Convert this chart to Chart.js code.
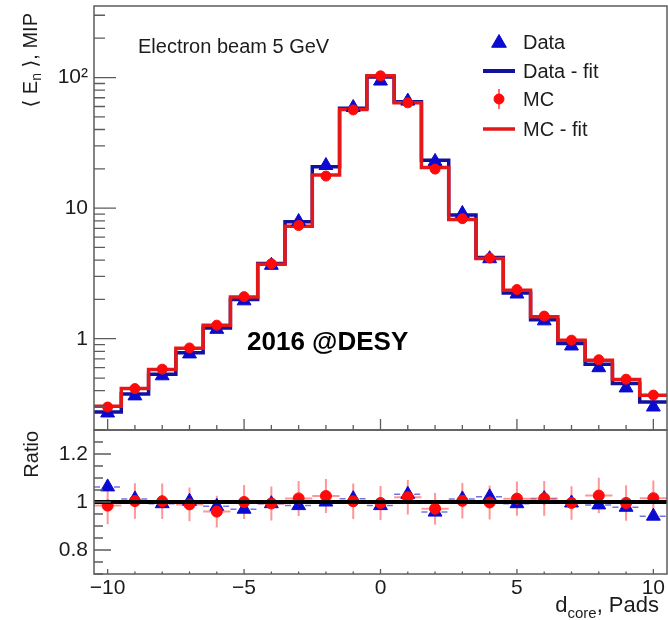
<!DOCTYPE html>
<html>
<head>
<meta charset="utf-8">
<script src="https://cdn.jsdelivr.net/npm/chart.js@4.4.1/dist/chart.umd.min.js"></script>
<style>
  html, body { margin: 0; padding: 0; background: #ffffff; }
  canvas { display: block; }
</style>
</head>
<body>
<canvas id="plot" width="668" height="620"></canvas>
<script>
// Pad distance from the shower core (bin centres)
const bins = [-10, -9, -8, -7, -6, -5, -4, -3, -2, -1, 0, 1, 2, 3, 4, 5, 6, 7, 8, 9, 10];

// Mean pad energy, MIP
const dataMean = [0.27, 0.365, 0.52, 0.765, 1.18, 1.95, 3.65, 7.9, 21.2, 59, 94, 66, 22.8, 9.1, 4.1, 2.2, 1.37, 0.88, 0.6, 0.42, 0.30];
const dataFit  = [0.275, 0.377, 0.535, 0.78, 1.21, 2.0, 3.77, 7.85, 20.7, 58.1, 101, 65.3, 23.3, 8.84, 4.19, 2.24, 1.40, 0.919, 0.638, 0.454, 0.328];
const mcMean   = [0.30, 0.415, 0.585, 0.85, 1.27, 2.1, 3.75, 7.35, 17.6, 56.5, 103, 64, 19.9, 8.3, 4.15, 2.38, 1.49, 0.975, 0.69, 0.49, 0.37];
const mcFit    = [0.304, 0.415, 0.58, 0.845, 1.27, 2.09, 3.72, 7.28, 17.9, 57, 103, 64.1, 20.5, 8.19, 4.12, 2.35, 1.47, 0.974, 0.684, 0.487, 0.369];

// Ratio panel
const dataRatio  = [1.063, 1.013, 0.993, 1.003, 0.982, 0.97, 0.993, 0.985, 1.0, 1.014, 0.985, 1.032, 0.958, 1.013, 1.022, 0.993, 1.014, 0.996, 0.988, 0.978, 0.941];
const mcRatio    = [0.985, 1.004, 1.003, 0.99, 0.96, 1.0, 0.994, 1.015, 1.025, 1.003, 0.996, 1.02, 0.972, 1.005, 0.998, 1.014, 1.015, 0.996, 1.027, 0.996, 1.016];
const mcRatioErr = [0.078, 0.074, 0.074, 0.07, 0.066, 0.071, 0.071, 0.073, 0.071, 0.074, 0.071, 0.072, 0.066, 0.074, 0.071, 0.071, 0.072, 0.07, 0.074, 0.074, 0.074];
const ratioReference = 1;

// Tick labels
const xTickValues = [-10, -5, 0, 5, 10];
const xTickLabels = ['\u221210', '\u22125', '0', '5', '10'];
const yTickValues = [1, 10, 100];
const yTickLabels = ['1', '10', '10\u00B2'];
const ratioTickValues = [0.8, 1, 1.2];
const ratioTickLabels = ['0.8', '1', '1.2'];

// Colours
const BLUE_LINE = '#12129c';
const BLUE_MARK = '#0a0ad0';
const RED_LINE = '#e31818';
const RED_MARK = '#ff0a0a';
const FRAME = '#5c5c5c';
const FONT = '"Liberation Sans", Arial, "DejaVu Sans", sans-serif';

// ---- helpers turning the arrays into point lists for the library ----
const binWidth = 1;
function histOutline(vals) {
  const pts = bins.map((b, i) => ({ x: b - binWidth / 2, y: vals[i] }));
  pts.push({ x: bins[bins.length - 1] + binWidth / 2, y: vals[vals.length - 1] });
  return pts;
}
function markers(vals) {
  return bins.map((b, i) => ({ x: b, y: vals[i] }));
}
function xBars(vals) {
  const pts = [];
  bins.forEach((b, i) => {
    pts.push({ x: b - binWidth / 2, y: vals[i] }, { x: b + binWidth / 2, y: vals[i] }, { x: b, y: null });
  });
  return pts;
}
function yBars(vals, errs) {
  const pts = [];
  bins.forEach((b, i) => {
    pts.push({ x: b, y: vals[i] - errs[i] }, { x: b, y: vals[i] + errs[i] }, { x: b, y: null });
  });
  return pts;
}
function closeTo(a, b) { return Math.abs(a - b) < 1e-6 * Math.max(1, Math.abs(b)); }
function labelFor(values, labels, v) {
  for (let i = 0; i < values.length; i++) if (closeTo(values[i], v)) return labels[i];
  return '';
}

// tick positions (major ones carry a label)
const xTickAll = [];
for (let v = -10; v <= 10; v++) xTickAll.push(v);
const yTickAll = [];
[0.1, 1, 10, 100].forEach(d => { for (let m = 1; m <= 9; m++) { const v = m * d; if (v >= 0.2 && v <= 353) yTickAll.push(+v.toPrecision(3)); } });
const ratioTickAll = [];
for (let k = 14; k <= 26; k++) ratioTickAll.push(+(k * 0.05).toFixed(2));

const tickFont = { family: FONT, size: 21 };

// scales keep their box; no extra room for overhanging labels
function fixBox(w, h) {
  return s => {
    if (w !== null) s.width = w;
    if (h !== null) s.height = h;
    s.paddingTop = 0; s.paddingBottom = 0; s.paddingLeft = 0; s.paddingRight = 0;
  };
}

// ---- frame, inward tick marks and text ----
const decorations = {
  id: 'decorations',
  afterDraw(chart) {
    const ctx = chart.ctx;
    const xs = chart.scales.x, ys = chart.scales.y, rs = chart.scales.yr;
    const L = chart.chartArea.left, R = chart.chartArea.right;
    const mainTop = ys.top, mainBot = ys.bottom, ratTop = rs.top, ratBot = rs.bottom;

    ctx.save();
    ctx.strokeStyle = FRAME;
    ctx.lineWidth = 1.5;
    ctx.strokeRect(L, mainTop, R - L, mainBot - mainTop);
    ctx.strokeRect(L, ratTop, R - L, ratBot - ratTop);

    ctx.lineWidth = 1.3;
    ctx.beginPath();
    // log axis
    yTickAll.forEach(v => {
      const p = ys.getPixelForValue(v);
      const len = labelFor(yTickValues, yTickLabels, v) ? 22 : 11;
      ctx.moveTo(L, p); ctx.lineTo(L + len, p);
    });
    // ratio axis
    ratioTickAll.forEach(v => {
      const p = rs.getPixelForValue(v);
      const len = labelFor(ratioTickValues, ratioTickLabels, v) ? 17 : 9;
      ctx.moveTo(L, p); ctx.lineTo(L + len, p);
    });
    // x ticks on both panels
    xTickAll.forEach(v => {
      const p = xs.getPixelForValue(v);
      const major = labelFor(xTickValues, xTickLabels, v) !== '';
      ctx.moveTo(p, mainBot); ctx.lineTo(p, mainBot - (major ? 11 : 5));
      ctx.moveTo(p, ratBot); ctx.lineTo(p, ratBot - (major ? 5 : 2.5));
    });
    ctx.stroke();

    ctx.fillStyle = '#1c1c1c';
    ctx.textBaseline = 'alphabetic';

    // axis titles built from runs (sub-scripts in a smaller font)
    function drawRun(segs, anchorX, anchorY, rotate, alignEnd) {
      ctx.save();
      ctx.translate(anchorX, anchorY);
      if (rotate) ctx.rotate(-Math.PI / 2);
      let total = 0;
      segs.forEach(s => { ctx.font = s.font; total += ctx.measureText(s.text).width; });
      let u = alignEnd ? -total : 0;
      ctx.textAlign = 'left';
      segs.forEach(s => {
        ctx.font = s.font;
        ctx.fillText(s.text, u, s.dy || 0);
        u += ctx.measureText(s.text).width;
      });
      ctx.restore();
    }
    const big = '20px ' + FONT;
    const small = '14px ' + FONT;
    drawRun([
      { text: '\u27E8 ', font: big },
      { text: 'E', font: big },
      { text: 'n', font: small, dy: 4 },
      { text: ' \u27E9, MIP', font: big }
    ], 37, mainTop + 7, true, true);
    drawRun([{ text: 'Ratio', font: big }], 38, ratTop + 1, true, true);
    drawRun([
      { text: 'd', font: '22px ' + FONT },
      { text: 'core', font: '15px ' + FONT, dy: 6 },
      { text: ', Pads', font: '22px ' + FONT }
    ], 659, 612, false, true);

    // beam label
    ctx.font = '20px ' + FONT;
    ctx.textAlign = 'left';
    ctx.fillText('Electron beam 5 GeV', 138, 53);

    // campaign label
    ctx.font = 'bold 26px ' + FONT;
    ctx.fillStyle = '#000000';
    ctx.fillText('2016 @DESY', 247, 350);

    // legend
    ctx.font = '20px ' + FONT;
    ctx.fillStyle = '#1c1c1c';
    const lx = 523, mx = 499;
    const rows = [42, 71, 99, 129];
    ctx.fillText('Data', lx, rows[0] + 7);
    ctx.fillText('Data - fit', lx, rows[1] + 7);
    ctx.fillText('MC', lx, rows[2] + 7);
    ctx.fillText('MC - fit', lx, rows[3] + 7);

    ctx.fillStyle = BLUE_MARK; ctx.strokeStyle = BLUE_MARK; ctx.lineWidth = 1;
    Chart.helpers.drawPoint(ctx, { pointStyle: 'triangle', radius: 8.5, borderWidth: 1, rotation: 0 }, mx, rows[0] + 1);

    ctx.strokeStyle = BLUE_LINE; ctx.lineWidth = 4;
    ctx.beginPath(); ctx.moveTo(483, rows[1]); ctx.lineTo(515, rows[1]); ctx.stroke();

    ctx.strokeStyle = 'rgba(255,70,70,0.8)'; ctx.lineWidth = 2;
    ctx.beginPath(); ctx.moveTo(mx, rows[2] - 10); ctx.lineTo(mx, rows[2] + 10); ctx.stroke();
    ctx.fillStyle = RED_MARK; ctx.strokeStyle = RED_MARK; ctx.lineWidth = 1;
    Chart.helpers.drawPoint(ctx, { pointStyle: 'circle', radius: 5, borderWidth: 1, rotation: 0 }, mx, rows[2]);

    ctx.strokeStyle = RED_LINE; ctx.lineWidth = 3.5;
    ctx.beginPath(); ctx.moveTo(483, rows[3]); ctx.lineTo(515, rows[3]); ctx.stroke();

    ctx.restore();
  }
};

const noGrid = { display: false, drawTicks: false, tickLength: 0 };

new Chart(document.getElementById('plot'), {
  type: 'scatter',
  data: {
    datasets: [
      // main panel
      { label: 'Data - fit', data: histOutline(dataFit), yAxisID: 'y', showLine: true, stepped: true,
        borderColor: BLUE_LINE, borderWidth: 3.5, pointRadius: 0, order: 20 },
      { label: 'MC - fit', data: histOutline(mcFit), yAxisID: 'y', showLine: true, stepped: true,
        borderColor: RED_LINE, borderWidth: 3.5, pointRadius: 0, order: 19 },
      { label: 'Data', data: markers(dataMean), yAxisID: 'y', pointStyle: 'triangle', pointRadius: 8,
        backgroundColor: BLUE_MARK, borderColor: BLUE_MARK, borderWidth: 1, order: 18 },
      { label: 'MC', data: markers(mcMean), yAxisID: 'y', pointStyle: 'circle', pointRadius: 5,
        backgroundColor: RED_MARK, borderColor: RED_MARK, borderWidth: 1, order: 17 },
      // ratio panel
      { label: 'Data ratio x-err', data: xBars(dataRatio), yAxisID: 'yr', showLine: true, spanGaps: false,
        borderColor: 'rgba(70,70,210,0.75)', borderWidth: 1.5, borderDash: [6, 4], pointRadius: 0, order: 12 },
      { label: 'MC ratio x-err', data: xBars(mcRatio), yAxisID: 'yr', showLine: true, spanGaps: false,
        borderColor: 'rgba(255,80,80,0.6)', borderWidth: 2, pointRadius: 0, order: 11 },
      { label: 'MC ratio y-err', data: yBars(mcRatio, mcRatioErr), yAxisID: 'yr', showLine: true, spanGaps: false,
        borderColor: 'rgba(255,80,80,0.6)', borderWidth: 2, pointRadius: 0, order: 10 },
      { label: 'Data ratio', data: markers(dataRatio), yAxisID: 'yr', pointStyle: 'triangle', pointRadius: 8,
        backgroundColor: BLUE_MARK, borderColor: BLUE_MARK, borderWidth: 1, order: 9 },
      { label: 'MC ratio', data: markers(mcRatio), yAxisID: 'yr', pointStyle: 'circle', pointRadius: 5.5,
        backgroundColor: RED_MARK, borderColor: RED_MARK, borderWidth: 1, order: 8 },
      { label: 'unity', data: [{ x: -10.5, y: ratioReference }, { x: 10.5, y: ratioReference }], yAxisID: 'yr',
        showLine: true, borderColor: '#000000', borderWidth: 4, pointRadius: 0, order: 1 }
    ]
  },
  options: {
    responsive: false,
    animation: false,
    devicePixelRatio: 1,
    layout: { autoPadding: false, padding: { left: 0, right: 1, top: 6, bottom: 0 } },
    plugins: { legend: { display: false }, tooltip: { enabled: false } },
    scales: {
      x: {
        type: 'linear', position: 'bottom', min: -10.5, max: 10.5,
        grid: noGrid, border: { display: false },
        afterBuildTicks: s => { s.ticks = xTickAll.map(v => ({ value: v })); },
        afterFit: fixBox(null, 46),
        ticks: { autoSkip: false, maxRotation: 0, padding: 2, color: '#1c1c1c', font: tickFont,
          callback: v => labelFor(xTickValues, xTickLabels, v) }
      },
      yr: {
        type: 'linear', position: 'left', stack: 'panels', stackWeight: 144, min: 0.7, max: 1.3,
        grid: noGrid, border: { display: false },
        afterBuildTicks: s => { s.ticks = ratioTickAll.map(v => ({ value: v })); },
        afterFit: fixBox(94, null),
        ticks: { autoSkip: false, padding: 6, color: '#1c1c1c', font: tickFont,
          callback: v => labelFor(ratioTickValues, ratioTickLabels, v) }
      },
      y: {
        type: 'logarithmic', position: 'left', stack: 'panels', stackWeight: 424, min: 0.2, max: 353,
        grid: noGrid, border: { display: false },
        afterBuildTicks: s => { s.ticks = yTickAll.map(v => ({ value: v })); },
        afterFit: fixBox(94, null),
        ticks: { autoSkip: false, padding: 6, color: '#1c1c1c', font: tickFont,
          callback: v => labelFor(yTickValues, yTickLabels, v) }
      }
    }
  },
  plugins: [decorations]
});
</script>
</body>
</html>
